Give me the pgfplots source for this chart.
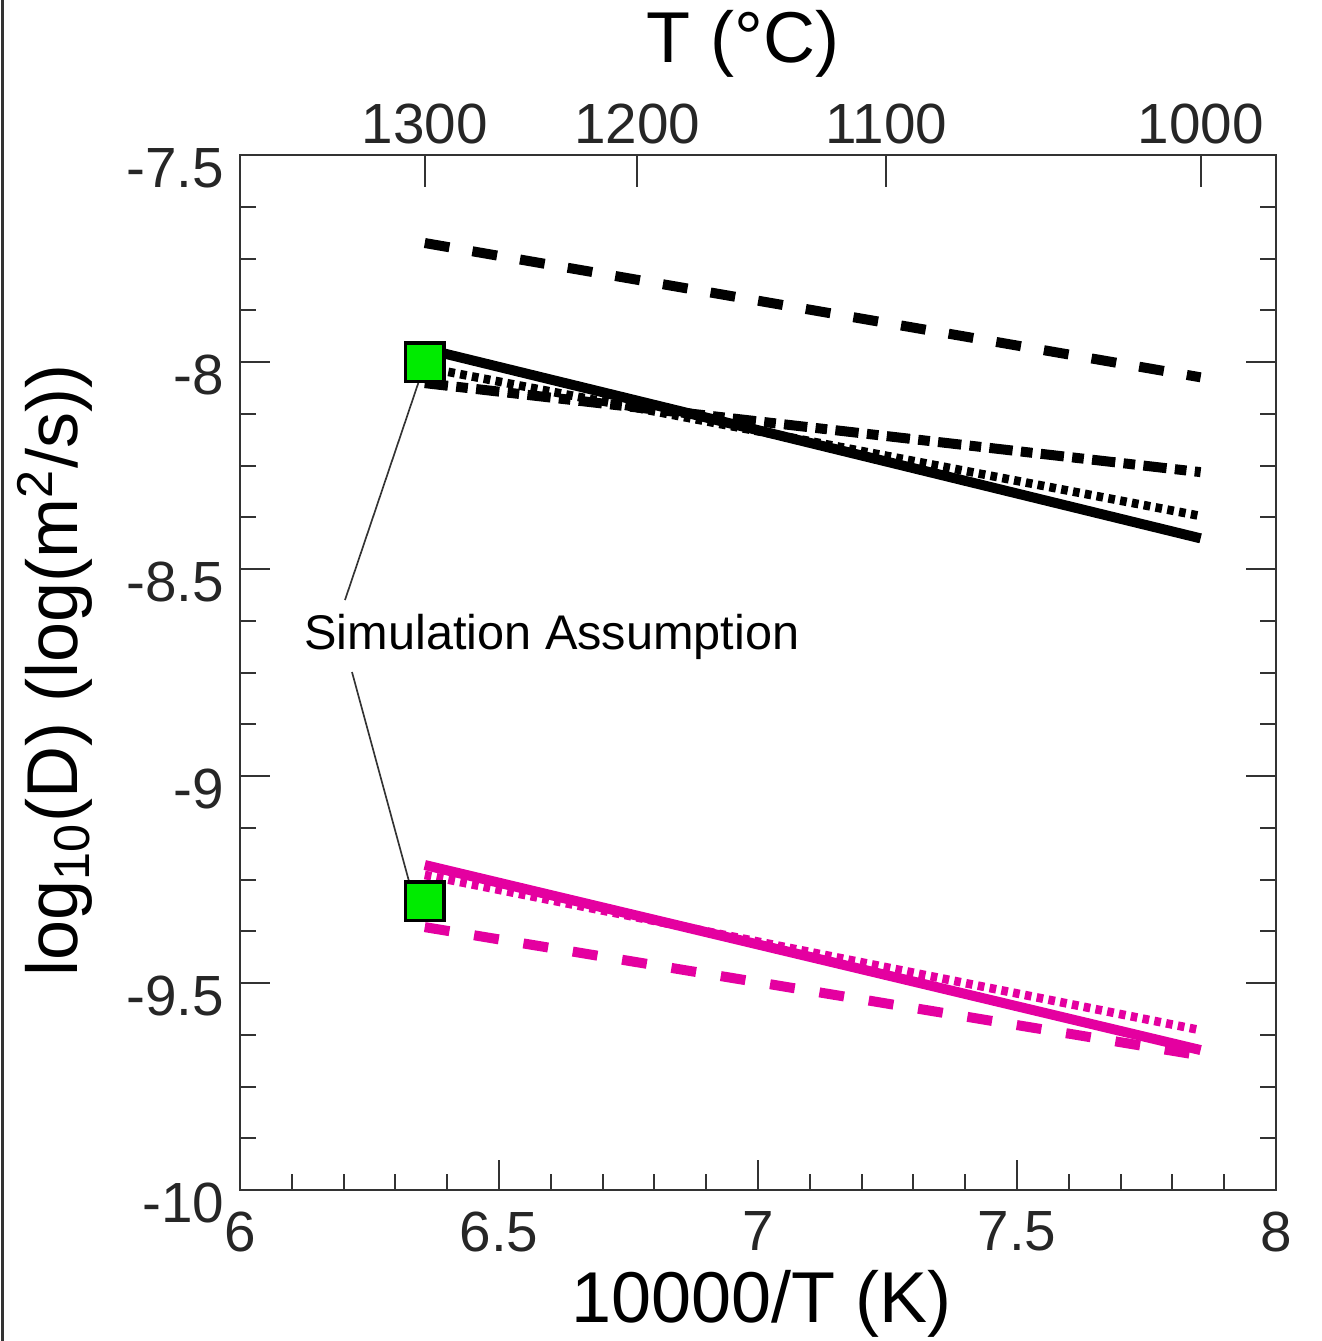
\documentclass[border=0pt]{standalone}
\usepackage{fontspec}
\setmainfont{Liberation Sans}
\usepackage{pgfplots}
\pgfplotsset{compat=1.18}
\definecolor{axgray}{HTML}{333333}
\definecolor{txtgray}{HTML}{262626}
\definecolor{mag}{RGB}{228,0,160}
\definecolor{sqgreen}{RGB}{0,235,0}
\begin{document}
\begin{tikzpicture}
\begin{axis}[
  name=main,
  scale only axis, width=310.8pt, height=310.5pt,
  xmin=6, xmax=8, ymin=-10, ymax=-7.5,
  xtick={6,6.5,7,7.5,8}, xticklabels={6,6.5,7,7.5,8},
  minor x tick num=4,
  ytick={-10,-9.5,-9,-8.5,-8,-7.5}, yticklabels={-10,-9.5,-9,-8.5,-8,-7.5},
  minor y tick num=3,
  xtick pos=left, ytick pos=both,
  tick align=inside,
  major tick length=9pt, minor tick length=4.8pt,
  tick style={line width=0.6pt, color=axgray},
  axis line style={line width=0.6pt, color=axgray},
  ticklabel style={font=\fontsize{17}{20}\selectfont, text=txtgray},
  x tick label style={yshift=-3pt},
  y tick label style={yshift=-4pt, xshift=-1.2pt},
  xlabel={10000/T (K)},
  xlabel style={font=\fontsize{21.6}{25}\selectfont, at={(axis description cs:0.503,-0.11)}, anchor=center},
  ylabel={log\textsubscript{10}(D) (log(m\textsuperscript{2}/s))},
  ylabel style={font=\fontsize{21.6}{25}\selectfont, at={(axis description cs:-0.1786,0.502)}, anchor=center},
  clip=false,
]
% black lines
\addplot[black, line width=3pt, dash pattern=on 7.5pt off 7pt] coordinates {(6.3567,-7.7126) (7.8545,-8.037)};
\addplot[black, line width=3pt] coordinates {(6.3567,-7.968) (7.8545,-8.426)};
\addplot[black, line width=2.6pt, dash pattern=on 2pt off 1.6pt] coordinates {(6.3567,-8.013) (7.8545,-8.372)};
\addplot[black, line width=3pt, dash pattern=on 7pt off 2.5pt on 3.5pt off 2.5pt] coordinates {(6.3567,-8.051) (7.8545,-8.266)};
% magenta lines
\addplot[mag, line width=3pt] coordinates {(6.3567,-9.215) (7.8545,-9.662)};
\addplot[mag, line width=2.6pt, dash pattern=on 2pt off 1.6pt] coordinates {(6.3567,-9.239) (7.8545,-9.614)};
\addplot[mag, line width=3pt, dash pattern=on 7.5pt off 7.5pt] coordinates {(6.3567,-9.365) (7.8545,-9.675)};
% annotation
\draw[axgray, line width=0.5pt] (axis cs:6.3475,-8.0386) -- (axis cs:6.2027,-8.5749);
\draw[axgray, line width=0.5pt] (axis cs:6.2162,-8.7488) -- (axis cs:6.3282,-9.2633);
\node[font=\fontsize{14.6}{17}\selectfont, text=black] at (axis cs:6.6023,-8.6643) {Simulation Assumption};
% simulation assumption points
\addplot[only marks, mark=square*, mark size=5.8pt, mark options={fill=sqgreen, draw=black, line width=1.1pt}] coordinates {(6.3567,-8.0) (6.3567,-9.302)};
\end{axis}
\begin{axis}[
  scale only axis, width=310.8pt, height=310.5pt,
  at={(main.south west)}, anchor=south west,
  xmin=6, xmax=8, ymin=0, ymax=1,
  axis x line*=top, axis y line=none,
  xtick={6.3567,6.767,7.248,7.8545}, xticklabels={1300,1200,1100,1000},
  tick align=inside,
  major tick length=9.6pt,
  tick style={line width=0.6pt, color=axgray},
  axis line style={line width=0.6pt, color=axgray},
  ticklabel style={font=\fontsize{17}{20}\selectfont, text=txtgray},
  x tick label style={yshift=-0.3pt},
  xlabel={T (°C)},
  xlabel style={font=\fontsize{21.6}{25}\selectfont, at={(axis description cs:0.4855,1.107)}, anchor=center},
]
\addplot[draw=none] coordinates {(6,0) (8,1)};
\end{axis}
\draw[axgray, line width=0.9pt] ([xshift=-71.1pt,yshift=-45.3pt]main.south west) -- ([xshift=-71.1pt,yshift=357pt]main.south west);
\pgfresetboundingbox
\path ([xshift=-72pt,yshift=-45.3pt]main.south west) rectangle ([xshift=324.6pt,yshift=357pt]main.south west);
\end{tikzpicture}
\end{document}
